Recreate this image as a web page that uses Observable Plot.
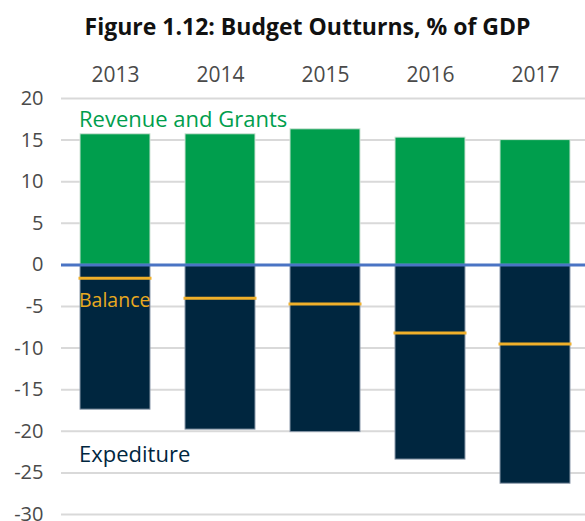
<!DOCTYPE html>
<html>
<head>
<meta charset="utf-8">
<script src="https://cdn.jsdelivr.net/npm/d3@7"></script>
<script src="https://cdn.jsdelivr.net/npm/@observablehq/plot@0.6"></script>
<style>
  html, body { margin: 0; padding: 0; background: #fff; }
  #title {
    box-sizing: border-box;
    height: 50px;
    padding-top: 14.6px;
    padding-left: 30px;
    text-align: center;
    font-family: "Open Sans", sans-serif;
    font-weight: bold;
    font-size: 23px;
    line-height: 23px;
    color: #111;
    white-space: nowrap;
  }
  #chart svg { display: block; overflow: visible; }
</style>
</head>
<body>
<div id="title">Figure 1.12: Budget Outturns, % of GDP</div>
<div id="chart"></div>
<script>
const years = ["2013", "2014", "2015", "2016", "2017"];
const revenue = [15.7, 15.7, 16.3, 15.3, 15.0];
const expenditure = [-17.4, -19.8, -20.1, -23.4, -26.3];
const balance = [-1.6, -4.0, -4.7, -8.2, -9.5];
const yTicks = [20, 15, 10, 5, 0, -5, -10, -15, -20, -25, -30];
const labelTexts = ["Revenue and Grants", "Balance", "Expediture"];
const labelValues = [16.6, -5.1, -23.7];

const green = "#009E4D", navy = "#00263F", orange = "#F0B02A", blue = "#4A74C4";
const labelColors = [green, "#E9A920", navy];
const labelSizes = [22, 19.5, 22];

const rows = years.map((y, i) => ({year: y, revenue: revenue[i], expenditure: expenditure[i], balance: balance[i]}));
const labels = labelTexts.map((t, i) => ({text: t, year: years[0], value: labelValues[i], color: labelColors[i], size: labelSizes[i]}));

const chart = Plot.plot({
  width: 585,
  height: 471,
  marginTop: 48,
  marginBottom: 7,
  marginLeft: 61,
  marginRight: 0,
  style: {fontFamily: "'Open Sans', sans-serif", background: "#fff"},
  x: {domain: years, paddingInner: 0.334, paddingOuter: 0.148, align: 0.565, axis: null},
  y: {domain: [-30, 20], axis: null},
  marks: [
    Plot.ruleY(yTicks, {stroke: "#d9d9d9", strokeWidth: 2}),
    Plot.axisY({ticks: yTicks, tickSize: 0, tickPadding: 18, tickFormat: d => String(d), fontSize: 20, fill: "#4a4a4a", label: null}),
    Plot.axisX({anchor: "top", tickSize: 0, tickPadding: 16.3, fontSize: 21, fill: "#4a4a4a", label: null}),
    Plot.barY(rows, {x: "year", y1: 0, y2: "revenue", fill: green, stroke: "#cfe3d6", strokeWidth: 1}),
    Plot.barY(rows, {x: "year", y1: 0, y2: "expenditure", fill: navy, stroke: "#8c9aab", strokeWidth: 1}),
    Plot.ruleY([0], {stroke: blue, strokeWidth: 3}),
    Plot.tickY(rows, {x: "year", y: "balance", stroke: orange, strokeWidth: 3, insetLeft: -1.5, insetRight: -1.5}),
    ...labels.map(l => Plot.text([l], {x: "year", y: "value", text: "text", fill: "color", fontSize: l.size, textAnchor: "start", lineAnchor: "bottom", dx: -36.5}))
  ]
});
document.getElementById("chart").appendChild(chart);
</script>
</body>
</html>
